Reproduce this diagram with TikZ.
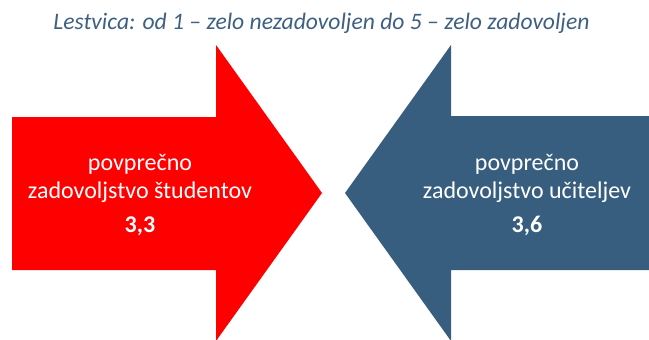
\documentclass[tikz,border=0pt]{standalone}
\usepackage{fontspec}
\setmainfont{Carlito}
\usetikzlibrary{positioning}

\definecolor{arrowred}{RGB}{255,0,0}
\definecolor{arrowblue}{RGB}{55,94,127}
\definecolor{titleblue}{RGB}{62,96,130}

\begin{document}
\begin{tikzpicture}[x=1pt,y=-1pt,node distance=14pt,
	every node/.style={inner sep=0pt,align=center},
	label/.style={text=white,font=\fontsize{24}{28}\selectfont},
	value/.style={text=white,font=\fontsize{24}{28}\selectfont\bfseries}]

	\useasboundingbox (0,0) rectangle (649,340);

	% title
	\node [text=titleblue,font=\fontsize{23.6}{28}\selectfont\itshape,anchor=base] at (321.5,30)	(title)	{Lestvica: od 1 -- zelo nezadovoljen do 5 -- zelo zadovoljen};

	% arrows
	\fill [arrowred]  (12,117) -- (216,117) -- (216,45) -- (322,193) -- (216,341) -- (216,270) -- (12,270) -- cycle;
	\fill [arrowblue] (345,193) -- (451,45) -- (451,116) -- (649,116) -- (649,270) -- (451,270) -- (451,341) -- cycle;

	% texts
	\node [label] at (140,178)		(stud)		{povprečno\\zadovoljstvo študentov};
	\node [value,below=of stud]		(studval)	{3,3};
	\node [label] at (527,178)		(uc)		{povprečno\\zadovoljstvo učiteljev};
	\node [value,below=of uc]		(ucval)		{3,6};

\end{tikzpicture}
\end{document}
